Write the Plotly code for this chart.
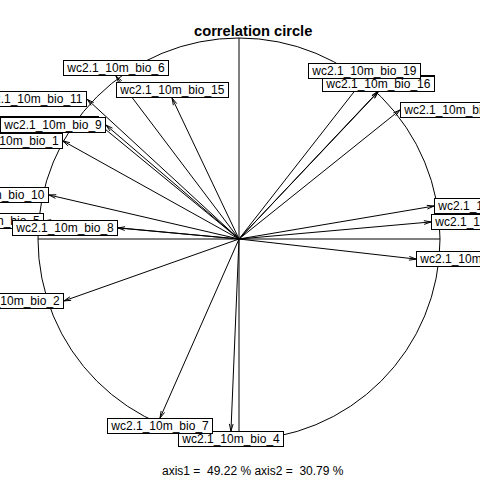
import numpy as np
import plotly.graph_objects as go

# variables in drawing order (alphabetical as in R)
labels = ["wc2.1_10m_bio_1", "wc2.1_10m_bio_10", "wc2.1_10m_bio_11", "wc2.1_10m_bio_12",
          "wc2.1_10m_bio_13", "wc2.1_10m_bio_14", "wc2.1_10m_bio_15", "wc2.1_10m_bio_16",
          "wc2.1_10m_bio_17", "wc2.1_10m_bio_18", "wc2.1_10m_bio_19", "wc2.1_10m_bio_2",
          "wc2.1_10m_bio_3", "wc2.1_10m_bio_4", "wc2.1_10m_bio_5", "wc2.1_10m_bio_6",
          "wc2.1_10m_bio_7", "wc2.1_10m_bio_8", "wc2.1_10m_bio_9"]
axis1 = [-0.876, -0.945, -0.755, 0.801, 0.692, 0.970, -0.333, 0.692,
         0.955, 0.881, 0.622, -0.871, -0.697, -0.040, -0.970, -0.612,
         -0.393, -0.602, -0.662]
axis2 = [0.488, 0.219, 0.695, 0.642, 0.734, 0.164, 0.701, 0.731,
         0.085, -0.100, 0.796, -0.308, 0.572, -0.955, 0.090, 0.810,
         -0.891, 0.055, 0.567]
title_text = "correlation circle"
sub_text = "axis1 =\u00a0 49.22 % axis2 =\u00a0 30.79 %"

FONT = "Liberation Sans, Arial, sans-serif"
x = np.array(axis1)
y = np.array(axis2)

# arrows: shafts + open heads (15 deg, fixed length)
head = 0.036
ang = np.deg2rad(15)
xs, ys = [], []
for xi, yi in zip(x, y):
    xs += [0, xi, None]
    ys += [0, yi, None]
    th = np.arctan2(yi, xi)
    for s in (1, -1):
        xs += [xi, xi - head * np.cos(th + s * ang), None]
        ys += [yi, yi - head * np.sin(th + s * ang), None]

fig = go.Figure()
fig.add_trace(go.Scatter(x=xs, y=ys, mode="lines",
                         line=dict(color="black", width=1), hoverinfo="skip",
                         showlegend=False))

shapes = [
    dict(type="circle", xref="x", yref="y", x0=-1, y0=-1, x1=1, y1=1,
         line=dict(color="black", width=1), layer="below"),
    dict(type="line", xref="x", yref="y", x0=-1, y0=0, x1=1, y1=0,
         line=dict(color="black", width=1), layer="below"),
    dict(type="line", xref="x", yref="y", x0=0, y0=-1, x1=0, y1=1,
         line=dict(color="black", width=1), layer="below"),
]

annotations = []
for lab, xi, yi in zip(labels, x, y):
    if xi > yi and xi > -yi:
        xa, ya = "left", "middle"
    elif xi > yi and xi <= -yi:
        xa, ya = "center", "top"
    elif xi <= yi and xi <= -yi:
        xa, ya = "right", "middle"
    else:
        xa, ya = "center", "bottom"
    annotations.append(dict(x=xi, y=yi, xref="x", yref="y",
                            text="\u00a0" + lab + "\u00a0",
                            showarrow=False, xanchor=xa, yanchor=ya,
                            font=dict(family=FONT, size=12, color="black"),
                            bgcolor="white", bordercolor="black",
                            borderwidth=1, borderpad=0))

annotations.append(dict(x=253 / 480, y=1 - 31 / 480, xref="paper", yref="paper",
                        text="<b>" + title_text + "</b>", showarrow=False,
                        xanchor="center", yanchor="middle",
                        font=dict(family=FONT, size=14.7, color="black")))
annotations.append(dict(x=253 / 480, y=1 - 471 / 480, xref="paper", yref="paper",
                        text=sub_text, showarrow=False,
                        xanchor="center", yanchor="middle",
                        font=dict(family=FONT, size=12, color="black")))

cx, cy, r = 239, 239, 201
fig.update_layout(
    width=480, height=480,
    margin=dict(l=0, r=0, t=0, b=0),
    paper_bgcolor="white", plot_bgcolor="white",
    xaxis=dict(range=[-cx / r, (480 - cx) / r], visible=False, fixedrange=True),
    yaxis=dict(range=[-(480 - cy) / r, cy / r], visible=False, fixedrange=True),
    shapes=shapes,
    annotations=annotations,
    showlegend=False,
)
fig.write_html("out.html", config={"displayModeBar": False},
               post_script="document.body.style.margin='0';document.body.style.overflow='hidden';")
